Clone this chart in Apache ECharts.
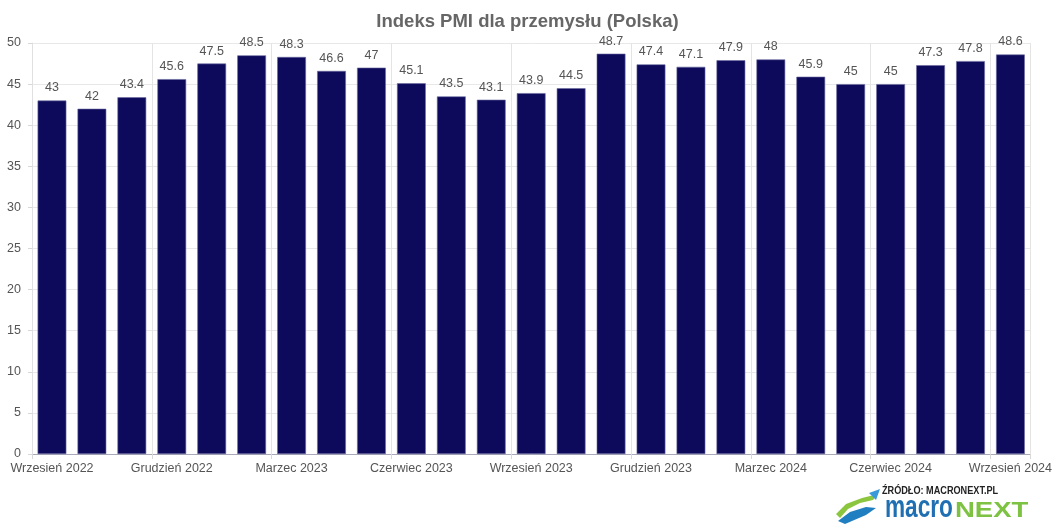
<!DOCTYPE html>
<html><head><meta charset="utf-8">
<script src="https://cdn.jsdelivr.net/npm/echarts@6/dist/echarts.min.js"></script>
<style>html,body{margin:0;padding:0;background:#fff}#c{width:1055px;height:527px}</style>
</head><body><div id="c"></div>
<script>
const categories = ["Wrzesień 2022","Październik 2022","Listopad 2022","Grudzień 2022","Styczeń 2023","Luty 2023","Marzec 2023","Kwiecień 2023","Maj 2023","Czerwiec 2023","Lipiec 2023","Sierpień 2023","Wrzesień 2023","Październik 2023","Listopad 2023","Grudzień 2023","Styczeń 2024","Luty 2024","Marzec 2024","Kwiecień 2024","Maj 2024","Czerwiec 2024","Lipiec 2024","Sierpień 2024","Wrzesień 2024"];
const pmiValues = [43,42,43.4,45.6,47.5,48.5,48.3,46.6,47,45.1,43.5,43.1,43.9,44.5,48.7,47.4,47.1,47.9,48,45.9,45,45,47.3,47.8,48.6];
const yTicks = {min:0, max:50, interval:5};
const FONT = '"Liberation Sans", Arial, sans-serif';
const chart = echarts.init(document.getElementById('c'), null, {renderer:'canvas'});
chart.setOption({
  backgroundColor:'#fff',
  animation:false,
  title:{text:'Indeks PMI dla przemysłu (Polska)', left:'center', top:7,
    textStyle:{fontFamily:FONT, fontSize:18.5, fontWeight:'bold', color:'#666'}},
  grid:{left:32, right:24, top:43, bottom:73, containLabel:false},
  xAxis:{type:'category', data:categories, boundaryGap:true,
    axisLine:{lineStyle:{color:'#a8a8b8'}},
    axisTick:{show:true, interval:2, length:5, lineStyle:{color:'#d8d8d8'}},
    splitLine:{show:true, interval:2, lineStyle:{color:'#e4e4e4'}},
    axisLabel:{interval:2, color:'#555', fontFamily:FONT, fontSize:12.5, margin:8}},
  yAxis:{type:'value', min:yTicks.min, max:yTicks.max, interval:yTicks.interval,
    axisLine:{show:true, lineStyle:{color:'#e0e0e0'}},
    axisTick:{show:true, length:4, lineStyle:{color:'#d8d8d8'}},
    splitLine:{lineStyle:{color:'#e8e8e8'}},
    axisLabel:{color:'#555', fontFamily:FONT, fontSize:12.5, margin:11}},
  series:[{type:'bar', data:pmiValues, barWidth:'72%',
    itemStyle:{color:'#0d0a5c', borderColor:'#6a6aa0', borderWidth:0.6},
    label:{show:true, position:'top', distance:6, color:'#555', fontFamily:FONT, fontSize:12.5}}],
  graphic:[
    {type:'text', x:882, y:491, scaleX:0.83, style:{text:'ŹRÓDŁO: MACRONEXT.PL', fill:'#222', verticalAlign:'middle', font:'bold 11px "Liberation Sans", Arial'}},
    {type:'text', x:885, y:508, scaleX:0.73, style:{text:'macro', fill:'#1f6fb2', verticalAlign:'middle', font:'bold 31px "Liberation Sans", sans-serif'}},
    {type:'text', x:955, y:511, scaleX:1.25, style:{text:'NEXT', fill:'#7dc242', verticalAlign:'middle', font:'bold 22px "Liberation Sans", sans-serif'}},
    {type:'polygon', shape:{points:[[836,514],[846,504],[862,498],[878,494],[873,500],[860,503],[848,509],[840,518]]}, style:{fill:'#8cc63f'}},
    {type:'polygon', shape:{points:[[838,521],[850,512],[866,507],[876,508],[866,515],[852,521],[845,524]]}, style:{fill:'#1f7fc0'}},
    {type:'polygon', shape:{points:[[869,493],[880,489],[876,500]]}, style:{fill:'#3a9ad9'}}
  ]
});
</script></body></html>
